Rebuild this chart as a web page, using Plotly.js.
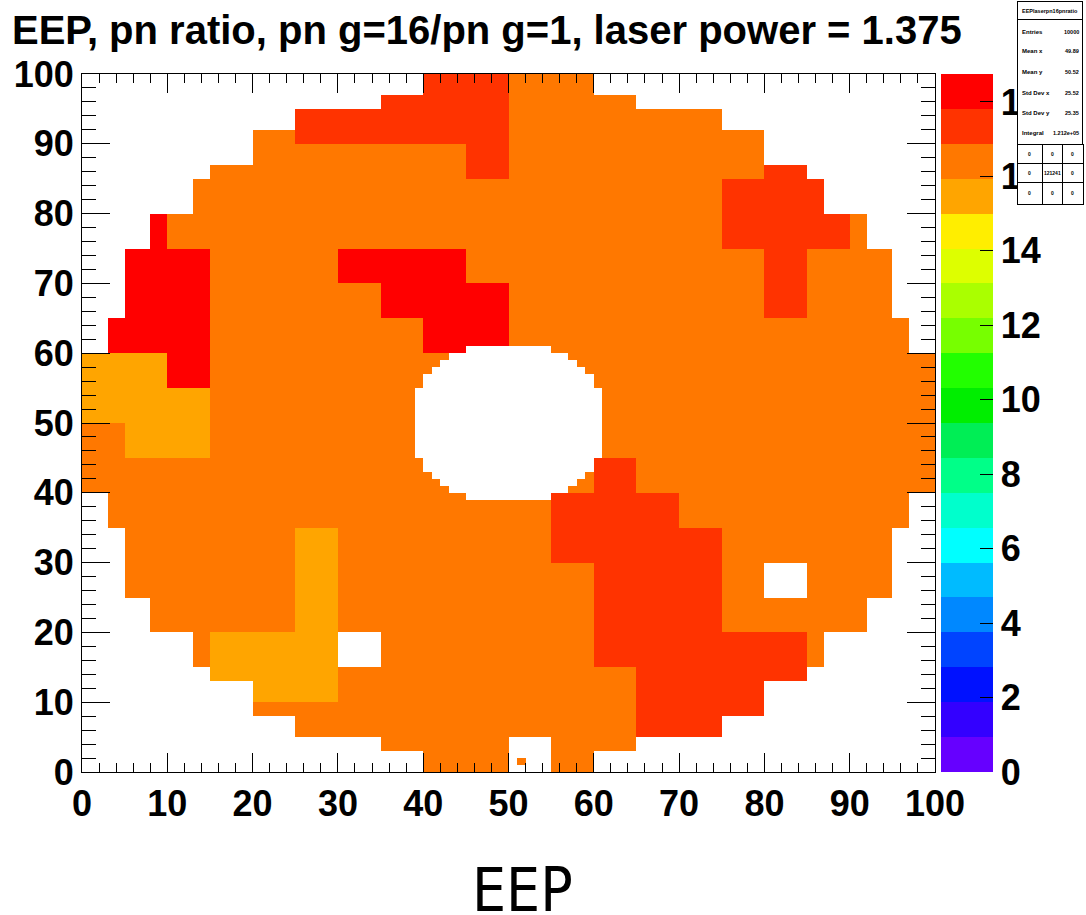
<!DOCTYPE html>
<html><head><meta charset="utf-8">
<script src="https://cdn.plot.ly/plotly-3.0.1.min.js"></script>
<style>html,body{margin:0;padding:0;background:#fff;} #chart{width:1086px;height:915px;}</style>
</head><body><div id="chart"></div>
<script>
// ---------------- data ----------------
const titleText = 'EEP, pn ratio, pn g=16/pn g=1, laser power = 1.375';
const xAxisTitle = 'EEP';
// value of each colour class (centre of its palette band)
const levelValues = {A: 15.5, O: 16.4, R: 17.3, D: 18.3};
// 5x5 supercrystal classes, one char per block; first string = top row (y 95-100), last = bottom (y 0-5)
const scRows = [
  '.......RRROOO.......',
  '....ORRRRROOOOOO....',
  '...OOOOOOROOOOOOR...',
  '..OOOOOOOOOOOOORRR..',
  '.DOOOOOOOOOOOOORRRO.',
  '.DDOOODDDOOOOOOOROO.',
  '.DDOOOODDDOOOOOOROO.',
  'DDDOOOOODDOOOOOOOOOO',
  'AADOOOOOOOOOOOOOOOOO',
  'AAAOOOOOOOOOOOOOOOOO',
  'OAAOOOOOOOOOOOOOOOOO',
  'OOOOOOOOOOOOROOOOOOO',
  'OOOOOOOOOOORRROOOOOO',
  '.OOOOAOOOOORRRROOOO.',
  '.OOOOAOOOOOORRRO.OO.',
  '.OOOOAOOOOOORRROOOO.',
  '..OAAA.OOOOORRRRRO..',
  '...AAAOOOOOOORRRR...',
  '....OOOOOOOOORRR....',
  '.......OOO.OO.......'
];
// outer edge of the endcap: [firstRow, lastRow, xFrom, xTo)
const outerRows = [
  [0,2,40,60],[3,4,35,65],[5,7,25,75],[8,12,20,80],[13,14,15,85],[15,19,13,87],
  [20,24,8,92],[25,34,5,95],[35,39,3,97],[40,59,0,100],[60,64,3,97],[65,74,5,95],
  [75,79,8,92],[80,84,13,87],[85,86,15,85],[87,91,20,80],[92,94,25,75],[95,96,35,65],[97,99,40,60]
];
// inner hole: [firstRow, lastRow, xFrom, xTo)
const holeRows = [
  [39,39,45,55],[40,40,43,57],[41,41,42,58],[42,42,41,59],[43,44,40,60],[45,54,39,61],
  [55,56,40,60],[57,57,41,59],[58,58,42,58],[59,59,43,57],[60,60,45,55]
];
// single crystals outside the block pattern: [x, y, class]
const extraCrystals = [[51,1,'O']];
// palette bands, bottom to top
const paletteColors = ['#6600ff','#3300ff','#0011ff','#0044ff','#0088ff','#00bbff','#00ffff','#00ffcc',
  '#00ff88','#00ee55','#00ee00','#22ff00','#77ff00','#aaff00','#ddff00','#ffee00','#ffa500','#ff7800','#ff3300','#ff0000'];
const zMax = 18.75;
const statsTitle = 'EEPlaserpn16pnratio';
const statsLabels = ['Entries','Mean x','Mean y','Std Dev x','Std Dev y','Integral'];
const statsValues = ['10000','49.89','50.52','25.52','25.35','1.212e+05'];
const statsGrid = [['0','0','0'],['0','121241','0'],['0','0','0']];

// ---------------- build the histogram table ----------------
const N = 100;
const z = [];
for (let y = 0; y < N; y++) {
  const row = new Array(N).fill(null);
  const o = outerRows.find(r => y >= r[0] && y <= r[1]);
  const h = holeRows.find(r => y >= r[0] && y <= r[1]);
  if (o) {
    for (let x = o[2]; x < o[3]; x++) {
      if (h && x >= h[2] && x < h[3]) continue;
      const code = scRows[19 - Math.floor(y / 5)][Math.floor(x / 5)];
      if (levelValues[code] !== undefined) row[x] = levelValues[code];
    }
  }
  z.push(row);
}
extraCrystals.forEach(c => { z[c[1]][c[0]] = levelValues[c[2]]; });

const colorscale = [];
paletteColors.forEach((c, i) => {
  colorscale.push([i / paletteColors.length, c]);
  colorscale.push([(i + 1) / paletteColors.length, c]);
});

// ---------------- layout helpers ----------------
const W = 1086, H = 915;
const L = 82, R = 935, T = 74, B = 772;
const px2x = p => (p - L) / (R - L);
const py2y = p => (B - p) / (B - T);
const boldFont = {family: 'Liberation Sans, Arial, Helvetica, sans-serif', weight: 'bold', color: '#000'};

const annotations = [];
function box(x0, y0, x1, y1) {
  annotations.push({xref: 'paper', yref: 'paper', x: px2x(x0), y: py2y(y0), xanchor: 'left', yanchor: 'top',
    width: x1 - x0 - 2, height: y1 - y0 - 2, text: '', showarrow: false, bgcolor: '#fff',
    bordercolor: '#000', borderwidth: 1, borderpad: 0});
}
function label(px, py, txt, anchor, size) {
  annotations.push({xref: 'paper', yref: 'paper', x: px2x(px), y: py2y(py), xanchor: anchor, yanchor: 'middle',
    text: txt, showarrow: false, font: Object.assign({}, boldFont, {size: size})});
}
// stats box
box(1017, 1, 1083, 204);
box(1017, 1, 1083, 20);
const gx = [1017, 1042, 1062, 1083], gy = [144, 163, 182, 204];
for (let r = 0; r < 3; r++) for (let c = 0; c < 3; c++) box(gx[c], gy[r], gx[c + 1] + 1, gy[r + 1] + 1);
label(1050, 11, statsTitle, 'center', 5.5);
const rowY = [32, 51, 72, 93, 113, 133];
statsLabels.forEach((t, i) => { label(1020, rowY[i], t, 'left', 6); label(1081, rowY[i], statsValues[i], 'right', 5.5); });
for (let r = 0; r < 3; r++) for (let c = 0; c < 3; c++)
  label((gx[c] + gx[c + 1]) / 2, (gy[r] + gy[r + 1]) / 2, statsGrid[r][c], 'center', 5);
// x-axis title
annotations.push({xref: 'paper', yref: 'paper', x: px2x(522), y: py2y(890), xanchor: 'center', yanchor: 'middle',
  text: xAxisTitle, showarrow: false,
  font: {family: 'Liberation Sans Narrow, DejaVu Sans Condensed, sans-serif', size: 60, color: '#000'}});

const axisCommon = {
  range: [0, 100], dtick: 10, tick0: 0, ticks: 'inside', tickwidth: 1, tickcolor: '#000',
  mirror: 'ticks', showline: true, linecolor: '#000', linewidth: 1, showgrid: false, zeroline: false,
  tickfont: Object.assign({}, boldFont, {size: 36}), fixedrange: true
};

const trace = {
  type: 'heatmap', z: z, x0: 0.5, dx: 1, y0: 0.5, dy: 1,
  zmin: 0, zmax: zMax, colorscale: colorscale, zsmooth: false, hoverinfo: 'skip',
  colorbar: {
    x: px2x(941), xanchor: 'left', y: 0.5, yanchor: 'middle', len: 1, lenmode: 'fraction',
    thickness: 52, thicknessmode: 'pixels', xpad: 0, ypad: 0, outlinewidth: 0,
    ticks: 'inside', ticklen: 13, tickwidth: 1, tickcolor: '#000', tick0: 0, dtick: 2,
    tickfont: Object.assign({}, boldFont, {size: 36})
  }
};

const layout = {
  width: W, height: H, paper_bgcolor: '#fff', plot_bgcolor: '#fff',
  margin: {l: L, r: W - R, t: T, b: H - B, autoexpand: false},
  title: {text: titleText, xref: 'container', yref: 'container', x: 12 / W, xanchor: 'left',
    y: 1 - 30 / H, yanchor: 'middle', font: Object.assign({}, boldFont, {size: 40})},
  xaxis: Object.assign({}, axisCommon, {ticklen: 19, minor: {dtick: 2, ticks: 'inside', ticklen: 9, tickcolor: '#000', tickwidth: 1}}),
  yaxis: Object.assign({}, axisCommon, {ticklen: 28, minor: {dtick: 2, ticks: 'inside', ticklen: 14, tickcolor: '#000', tickwidth: 1}}),
  annotations: annotations,
  showlegend: false
};

Plotly.newPlot('chart', [trace], layout, {displayModeBar: false, staticPlot: true});
</script>
</body></html>
